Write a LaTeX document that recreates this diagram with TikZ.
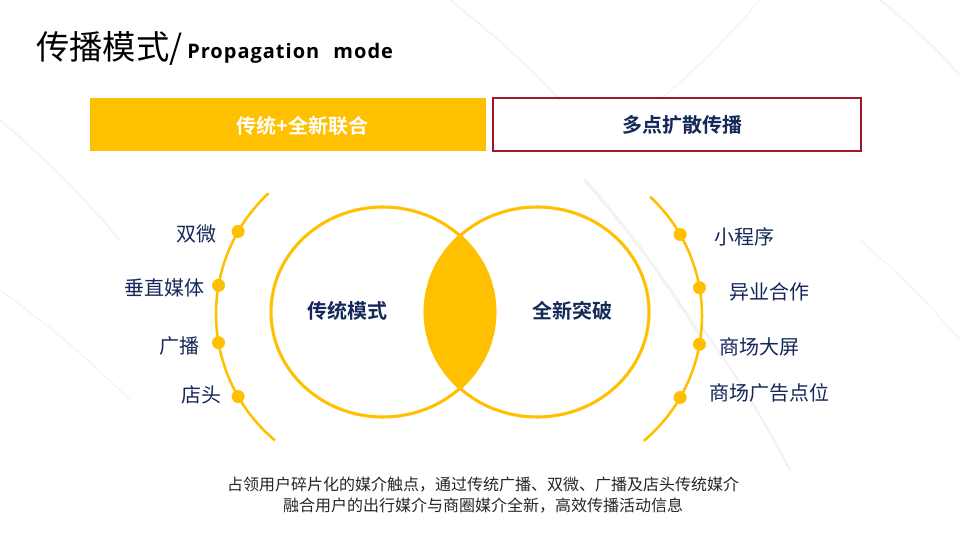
\documentclass[tikz,border=0pt]{standalone}
\usepackage{fontspec}
\setmainfont{Noto Sans CJK SC}[BoldFont={Noto Sans CJK SC Bold}]
\newfontfamily\engfont{Open Sans}[BoldFont={Open Sans Bold},LetterSpace=5]
\usetikzlibrary{positioning}
\definecolor{gold}{HTML}{FFC000}
\definecolor{navy}{HTML}{14285A}
\definecolor{wine}{HTML}{A0182B}
\definecolor{ink}{HTML}{262626}

\tikzset{
  ring/.style={draw=gold,line width=2.3pt},
  rim/.style={draw=gold,line width=1.9pt},
  knot/.style={circle,fill=gold,inner sep=0pt,minimum size=9.75pt},
  item/.style={text=navy,inner sep=0pt,font=\fontsize{15}{18}\selectfont},
  core/.style={text=navy,inner sep=0pt,font=\bfseries\fontsize{15}{18}\selectfont},
  streak/.style={gray!55,opacity=.18,line cap=round},
}

\begin{document}
\begin{tikzpicture}[x=.75pt,y=.75pt]
  \fill[white] (0,0) rectangle (960,540);
  \useasboundingbox (0,0) rectangle (960,540);
  % marble veins
  \foreach \a/\b/\c/\d/\w in {585/360/700/205/3,700/215/790/70/2,450/540/560/440/1.5,0/420/120/300/1.5,0/250/130/140/1,760/540/660/440/1,880/540/960/465/1.5,860/300/960/200/1}
    \draw[streak,line width=\w*.75pt] (\a,\b) to[bend left=4] (\c,\d);

  % title
  \node[anchor=base west,inner sep=0pt,font=\fontsize{25}{29}\selectfont] (title) at (36,480) {传播模式/};
  \node[anchor=base west,inner sep=0pt,font=\engfont\bfseries\fontsize{15}{18}\selectfont] (titleen) at (187,481.7) {Propagation\hspace{6pt} mode};

  % header boxes
  \node[fill=gold,inner sep=0pt,minimum width=297pt,minimum height=39.75pt] (mix) at (288,415.5) {};
  \node[core,text=white] (mixlabel) at ([xshift=11pt,yshift=-1pt]mix.center) {传统+全新联合};
  \node[draw=wine,line width=.9pt,inner sep=0pt,minimum width=276pt,minimum height=39.75pt] (spread) at (677,415.5) {};
  \node[core] (spreadlabel) at ([xshift=4pt]spread.center) {多点扩散传播};

  % venn
  \coordinate (cl) at (383,228);
  \coordinate (cr) at (537,228);
  \begin{scope}
    \clip (cl) ellipse [x radius=112,y radius=105];
    \fill[gold] (cr) ellipse [x radius=112,y radius=105];
  \end{scope}
  \draw[ring] (cl) ellipse [x radius=112,y radius=105];
  \draw[ring] (cr) ellipse [x radius=112,y radius=105];
  \node[core] (old) at (347,229) {传统模式};
  \node[core] (new) at (572,229) {全新突破};

  % side arcs with channels
  \coordinate (al) at (381,226);
  \coordinate (ar) at (539,224);
  \draw[rim] (al) ++(133:165) arc[start angle=133,end angle=230,radius=165];
  \draw[rim] (ar) ++(-50:163) arc[start angle=-50,end angle=47,radius=163];
  \foreach \a/\t/\g/\s [count=\i] in {150/双微/21/-2.5,170/垂直媒体/14/-2.7,190/广播/19/-3.3,210/店头/16/1.5}{
    \path (al) ++(\a:165) node[knot] (l\i) {};
    \node[item,anchor=east] (lt\i) at ([xshift=-\g*.75pt,yshift=\s*.75pt]l\i.center) {\t};
  }
  \foreach \a/\t/\g/\s [count=\i] in {30/小程序/34/-2.5,10/异业合作/30/-4.3,-10/商场大屏/20/-2.7,-30/商场广告点位/29/4.5}{
    \path (ar) ++(\a:163) node[knot] (r\i) {};
    \node[item,anchor=west] (rt\i) at ([xshift=\g*.75pt,yshift=\s*.75pt]r\i.center) {\t};
  }

  % caption
  \node[align=center,text=ink,font=\fontsize{12}{15.75}\selectfont] (note) at (483,44.5)
    {占领用户碎片化的媒介触点，通过传统广播、双微、广播及店头传统媒介\\融合用户的出行媒介与商圈媒介全新，高效传播活动信息};
\end{tikzpicture}
\end{document}
